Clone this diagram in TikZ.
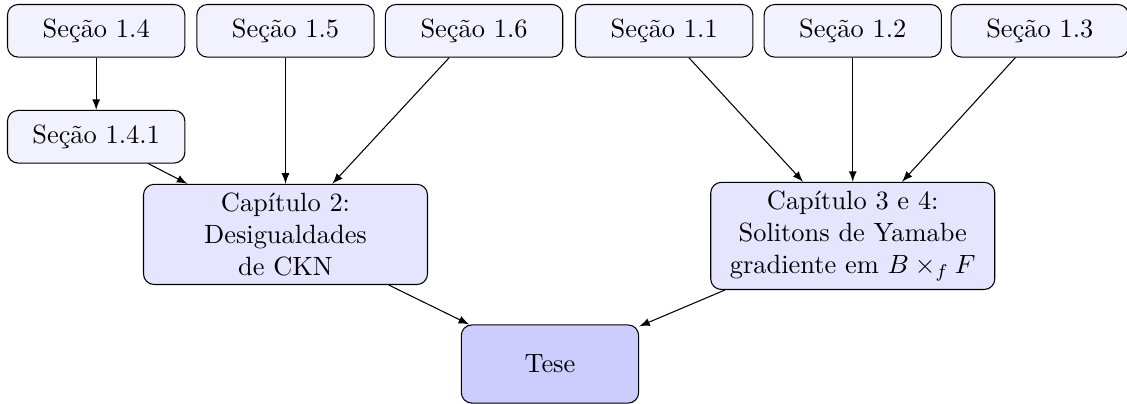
\documentclass[tikz,border=0pt]{standalone}
\usepackage{amsmath}
\usepackage{amssymb}
\usepackage{xcolor}
\usepackage{tikz}

\begin{document}
\begin{tikzpicture}[secao/.style={draw, rounded corners, fill=blue!5, minimum width=2.36cm, minimum height=0.7cm}, capitulo/.style={draw, rounded corners, fill=blue!10, align=center, minimum width=3.78cm}, tese/.style={draw, rounded corners, fill=blue!20, minimum width=2.36cm, minimum height=1.04cm}]
  \useasboundingbox (0,0) rectangle (15.0,-5.364);
  \node[secao](s14) at (1.28,-0.41) {Seção 1.4};
  \node[secao](s15) at (3.8,-0.41) {Seção 1.5};
  \node[secao](s16) at (6.31,-0.41) {Seção 1.6};
  \node[secao](s11) at (8.84,-0.41) {Seção 1.1};
  \node[secao](s12) at (11.35,-0.41) {Seção 1.2};
  \node[secao](s13) at (13.84,-0.41) {Seção 1.3};
  \node[secao](s141) at (1.28,-1.82) {Seção 1.4.1};
  \node[capitulo](cap2) at (3.8,-3.12) {Capítulo 2:\\Desigualdades\\de CKN};
  \node[capitulo](cap34) at (11.35,-3.14) {Capítulo 3 e 4:\\Solitons de Yamabe\\gradiente em $B\times_f F$};
  \node[tese](tese) at (7.32,-4.845) {Tese};
  \draw[-latex] (s14) -- (s141);
  \draw[-latex] (s141) -- (cap2);
  \draw[-latex] (s15) -- (cap2);
  \draw[-latex] (s16) -- (cap2);
  \draw[-latex] (s11) -- (cap34);
  \draw[-latex] (s12) -- (cap34);
  \draw[-latex] (s13) -- (cap34);
  \draw[-latex] (cap2) -- (tese);
  \draw[-latex] (cap34) -- (tese);
\end{tikzpicture}
\end{document}
